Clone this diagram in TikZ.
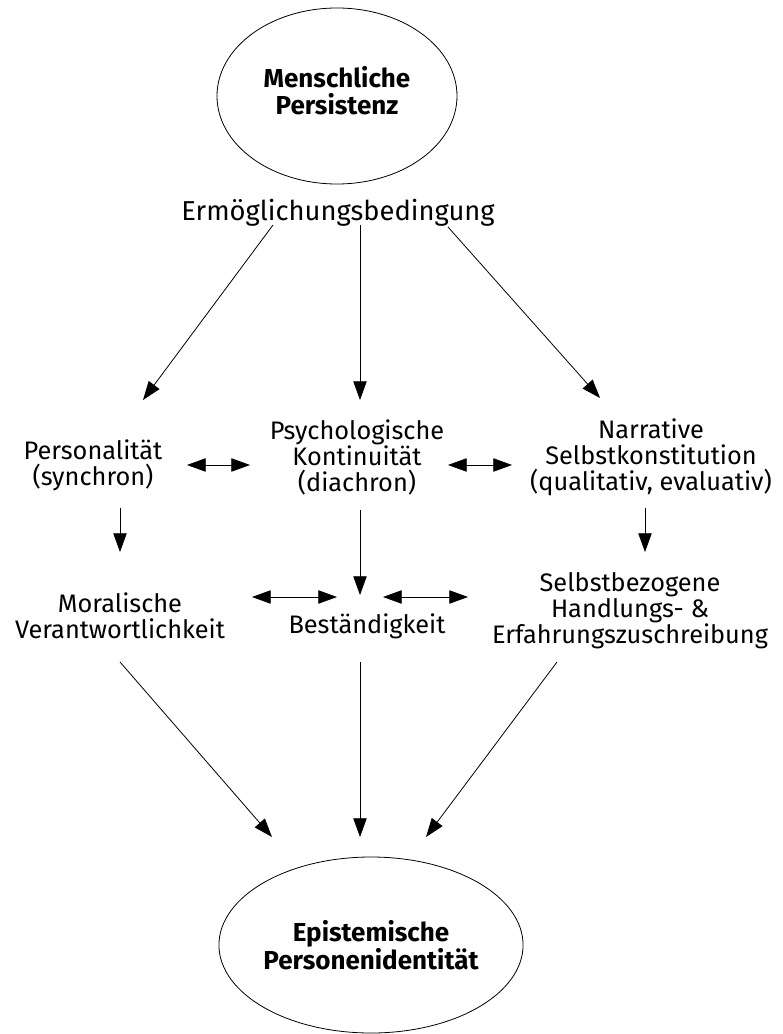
\documentclass[tikz,border=0pt]{standalone}
\usepackage{fontspec}
\setmainfont{Fira Sans}
\usetikzlibrary{shapes.geometric,arrows.meta}
\tikzset{
	lbl/.style={align=center,inner sep=0pt,font=\fontsize{19}{19.5}\selectfont},
	blob/.style={ellipse,draw,line width=0.6pt,inner sep=0pt,align=center,
		minimum width=180pt,minimum height=132pt,font=\bfseries\fontsize{19.5}{20.5}\selectfont},
	arr/.style={-{Triangle[length=14pt,width=10pt]},line width=0.6pt},
	darr/.style={{Triangle[length=14pt,width=10pt]}-{Triangle[length=14pt,width=10pt]},line width=0.6pt}}

\begin{document}
\begin{tikzpicture}[x=0.75pt,y=-0.75pt]
	\useasboundingbox (0,0) rectangle (782,1034);
	% ellipses
	\node[blob] (mensch) at (337,96) {Menschliche\\Persistenz\\[-12pt]\mbox{}};
	\node[blob] (epist) at (371,945) {Epistemische\\Personenidentit\"at};
	% texts
	\node[lbl, anchor=base, font=\fontsize{20.5}{21}\selectfont] (ermoeg) at (338,220) {Erm\"oglichungsbedingung};
	\node[lbl] (pers) at (93,465) {Personalit\"at\\(synchron)};
	\node[lbl] (psych) at (357,457) {Psychologische\\Kontinuit\"at\\(diachron)};
	\node[lbl] (narr) at (651,457) {Narrative\\Selbstkonstitution\\(qualitativ, evaluativ)};
	\node[lbl] (moral) at (120,616) {Moralische\\Verantwortlichkeit};
	\node[lbl, anchor=base] (best) at (367,633) {Best\"andigkeit};
	\node[lbl] (selbst) at (630,611) {Selbstbezogene\\Handlungs- \&\\Erfahrungszuschreibung};
	% top arrows
	\draw[arr] ([shift={(-65,5)}]ermoeg.base) -- ([shift={(50,-65)}]pers.center);
	\draw[arr] ([shift={(22,5)}]ermoeg.base) -- ([shift={(3,-57)}]psych.center);
	\draw[arr] ([shift={(110,7)}]ermoeg.base) -- ([shift={(-51,-59)}]narr.center);
	% first row
	\draw[darr] ([shift={(94,0)}]pers.center) -- ([shift={(-107,8)}]psych.center);
	\draw[darr] ([shift={(91,8)}]psych.center) -- ([shift={(-139,8)}]narr.center);
	\draw[arr] ([shift={(27,43)}]pers.center) -- ([shift={(0,-64)}]moral.center);
	\draw[arr] ([shift={(3,53)}]psych.center) -- ([shift={(-7,-38)}]best.base);
	\draw[arr] ([shift={(-6,51)}]narr.center) -- ([shift={(15,-59)}]selbst.center);
	% second row
	\draw[darr] ([shift={(132,-19)}]moral.center) -- ([shift={(-30,-36)}]best.base);
	\draw[darr] ([shift={(16,-36)}]best.base) -- ([shift={(-162,-14)}]selbst.center);
	% bottom arrows
	\draw[arr] ([shift={(0,46)}]moral.center) -- ([shift={(-99,-108)}]epist.center);
	\draw[arr] ([shift={(-7,29)}]best.base) -- ([shift={(-11,-108)}]epist.center);
	\draw[arr] ([shift={(-73,51)}]selbst.center) -- ([shift={(55,-108)}]epist.center);
\end{tikzpicture}
\end{document}
